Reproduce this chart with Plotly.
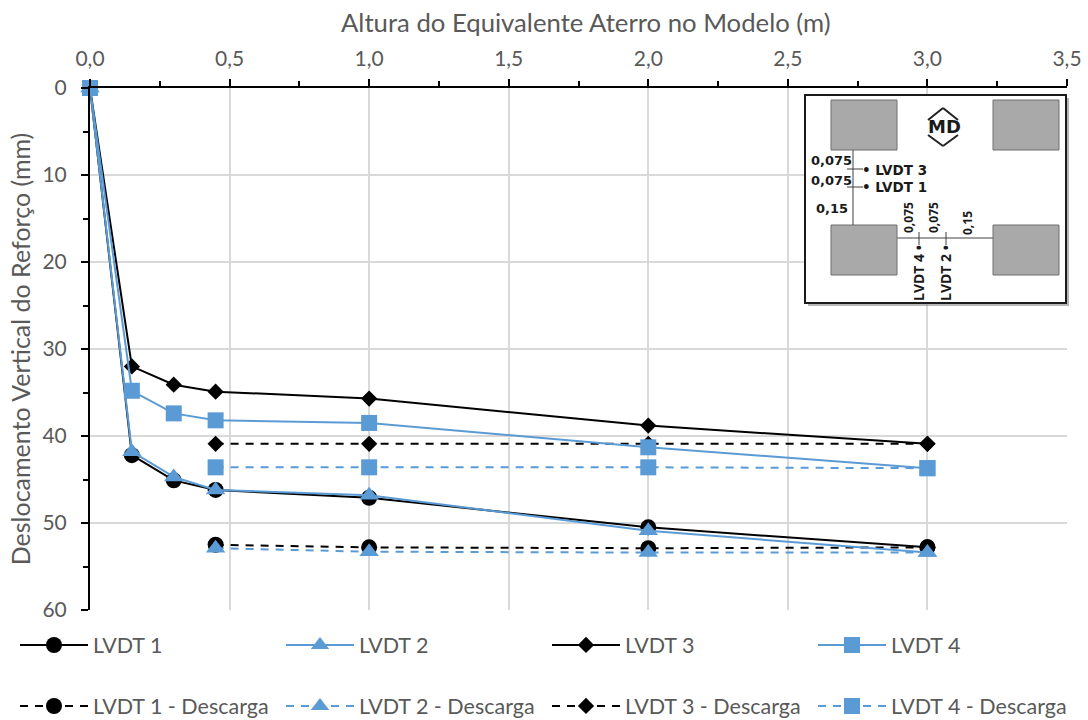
import plotly.graph_objects as go

W, H = 1088, 720
L, R, T, B = 90, 1067, 88, 610

x_load = [0, 0.15, 0.3, 0.45, 1, 2, 3]
x_unload = [0.45, 1, 2, 3]
lvdt1 = [0, 42.2, 45.1, 46.2, 47.1, 50.5, 52.8]
lvdt2 = [0, 41.8, 44.7, 46.2, 46.8, 50.9, 53.4]
lvdt3 = [0, 32.0, 34.1, 34.9, 35.7, 38.8, 40.9]
lvdt4 = [0, 34.8, 37.4, 38.2, 38.5, 41.3, 43.7]
lvdt1_d = [52.5, 52.8, 52.9, 52.8]
lvdt2_d = [52.9, 53.3, 53.4, 53.4]
lvdt3_d = [40.9, 40.9, 40.9, 40.9]
lvdt4_d = [43.6, 43.6, 43.6, 43.7]

BLACK, BLUE = "#000000", "#5b9bd5"
TEXT = "#595959"
FONT = "Lato"
TICK_SIZE = 21
DASH = "8px,7px"
SIZES = {"circle": 16, "triangle-up": 17, "diamond": 12.5, "square": 16}
LEGEND_ROWS = (645, 706)
LEGEND_COLS = (15, 281, 547, 813)

fig = go.Figure()
legends = {}

def leg(col, row):
    return dict(orientation="h", xref="container", yref="container",
                x=LEGEND_COLS[col] / W, y=1 - LEGEND_ROWS[row] / H,
                xanchor="left", yanchor="middle", itemwidth=68,
                bgcolor="rgba(0,0,0,0)", borderwidth=0,
                font=dict(family=FONT, size=21.5, color=TEXT),
                itemclick=False, itemdoubleclick=False)

def add(name, x, y, color, symbol, dash, col, row):
    lid = "legend" if not legends else f"legend{len(legends) + 1}"
    legends[lid] = leg(col, row)
    fig.add_trace(go.Scatter(
        x=x, y=y, name=name, mode="lines+markers", legend=lid, cliponaxis=False,
        line=dict(color=color, width=2, dash=dash),
        marker=dict(color=color, symbol=symbol, size=SIZES[symbol], line=dict(width=0)),
    ))

add("LVDT 1 - Descarga", x_unload, lvdt1_d, BLACK, "circle", DASH, 0, 1)
add("LVDT 2 - Descarga", x_unload, lvdt2_d, BLUE, "triangle-up", DASH, 1, 1)
add("LVDT 3 - Descarga", x_unload, lvdt3_d, BLACK, "diamond", DASH, 2, 1)
add("LVDT 4 - Descarga", x_unload, lvdt4_d, BLUE, "square", DASH, 3, 1)
add("LVDT 1", x_load, lvdt1, BLACK, "circle", "solid", 0, 0)
add("LVDT 2", x_load, lvdt2, BLUE, "triangle-up", "solid", 1, 0)
add("LVDT 3", x_load, lvdt3, BLACK, "diamond", "solid", 2, 0)
add("LVDT 4", x_load, lvdt4, BLUE, "square", "solid", 3, 0)

def px(v):
    return (v - L) / (R - L)

def py(v):
    return (B - v) / (B - T)

shapes = []
def rect(x0, y0, x1, y1, fill, line="rgba(0,0,0,0)", width=0):
    shapes.append(dict(type="rect", xref="paper", yref="paper", layer="above",
                       x0=px(x0), x1=px(x1), y0=py(y0), y1=py(y1),
                       fillcolor=fill, line=dict(color=line, width=width)))

def seg(x0, y0, x1, y1, color="#404040", width=1):
    shapes.append(dict(type="line", xref="paper", yref="paper", layer="above",
                       x0=px(x0), x1=px(x1), y0=py(y0), y1=py(y1),
                       line=dict(color=color, width=width)))

# Inset sketch
rect(808, 98, 1069, 306, "rgba(120,120,120,0.55)")
rect(805, 95, 1066, 303, "#ffffff", "#1a1a1a", 2)
for (a, b) in [(831, 100), (993, 100), (831, 225), (993, 225)]:
    rect(a, b, a + 66, b + 50, "#a9a9a9", "#6f6f6f", 1)
seg(853, 150, 853, 225)
seg(897, 238, 993, 238, "#808080", 1.5)
seg(847, 169, 863, 169)
seg(847, 187, 863, 187)
seg(919, 232, 919, 245)
seg(946, 232, 946, 245)
for pts in [(928, 120, 943, 108), (943, 108, 958, 120), (928, 135, 943, 146), (943, 146, 958, 135)]:
    seg(*pts, color="#222222", width=2)

WIDE, NARROW = "DejaVu Sans", "Open Sans"
inset_labels = [
    ("MD", 944, 127, 0, 18, WIDE),
    ("0,075", 831, 160, 0, 13, WIDE),
    ("0,075", 831, 180, 0, 13, WIDE),
    ("0,15", 832, 208, 0, 13, WIDE),
    ("• LVDT 3", 894, 170, 0, 13.5, WIDE),
    ("• LVDT 1", 894, 187, 0, 13.5, WIDE),
    ("0,075", 908, 218, -90, 12, NARROW),
    ("0,075", 933, 218, -90, 12, NARROW),
    ("0,15", 968, 223, -90, 12, NARROW),
    ("LVDT 4 •", 918, 273, -90, 14, NARROW),
    ("LVDT 2 •", 945, 273, -90, 14, NARROW),
]
annotations = [
    dict(text=t, xref="paper", yref="paper", x=px(a), y=py(b), showarrow=False,
         textangle=ang, xanchor="center", yanchor="middle",
         font=dict(family=fam, size=s, color="#1a1a1a", weight="bold"))
    for t, a, b, ang, s, fam in inset_labels
]
annotations.append(dict(
    text="Altura do Equivalente Aterro no Modelo (m)", xref="paper", yref="paper",
    x=px(586), y=py(22), showarrow=False, xanchor="center", yanchor="middle",
    font=dict(family=FONT, size=25.7, color=TEXT)))

fig.update_layout(
    width=W, height=H, autosize=False,
    margin=dict(l=L, r=W - R, t=T, b=H - B, pad=0, autoexpand=False),
    paper_bgcolor="#ffffff", plot_bgcolor="#ffffff",
    separators=", ",
    font=dict(family=FONT, size=TICK_SIZE, color=TEXT),
    showlegend=True,
    shapes=shapes,
    annotations=annotations,
    xaxis=dict(
        side="top", range=[0, 3.5], dtick=0.5, tick0=0, tickformat=".1f",
        showline=True, linecolor="#000000", linewidth=2, mirror=False,
        ticks="outside", ticklen=7, tickwidth=2, tickcolor="#000000", ticklabelstandoff=5,
        minor=dict(dtick=0.25, tick0=0, ticks="outside", ticklen=5, tickwidth=2,
                   tickcolor="#000000", showgrid=False),
        showgrid=True, gridcolor="#d9d9d9", gridwidth=2, zeroline=False,
        tickfont=dict(family=FONT, size=TICK_SIZE, color=TEXT),
    ),
    yaxis=dict(
        range=[60, 0], dtick=10, tick0=0,
        showline=True, linecolor="#000000", linewidth=2,
        ticks="outside", ticklen=7, tickwidth=2, tickcolor="#000000", ticklabelstandoff=10,
        minor=dict(dtick=5, tick0=0, ticks="outside", ticklen=5, tickwidth=2,
                   tickcolor="#000000", showgrid=False),
        showgrid=True, gridcolor="#d9d9d9", gridwidth=2, zeroline=False,
        title=dict(text="Deslocamento Vertical do Reforço (mm)", standoff=5,
                   font=dict(family=FONT, size=25, color=TEXT)),
        tickfont=dict(family=FONT, size=TICK_SIZE, color=TEXT),
    ),
    **legends,
)

fig.write_html("out.html", config=dict(displayModeBar=False),
               post_script="document.body.style.margin='0';")
